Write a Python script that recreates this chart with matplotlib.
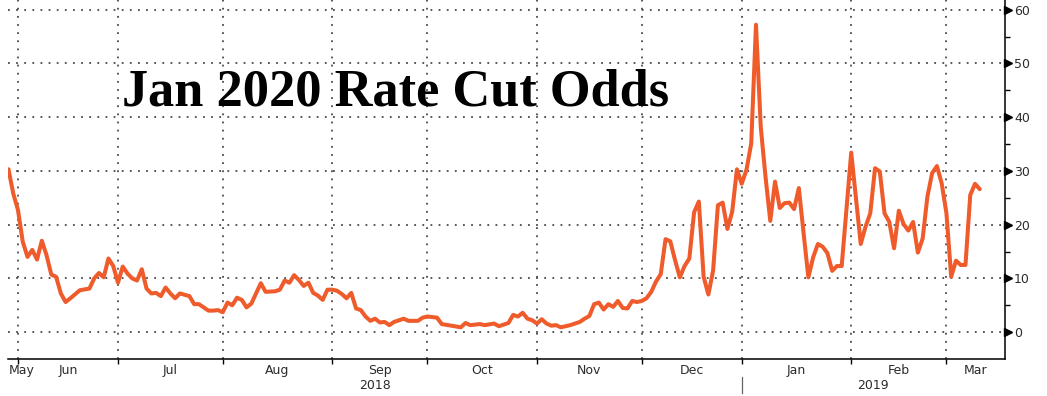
import numpy as np
import pandas as pd
import matplotlib
matplotlib.use("Agg")
import matplotlib.pyplot as plt
import matplotlib.transforms as mtrans

# ---------------- data ----------------
start_date = "2018-05-30"          # first business day shown
# business-day offsets from start_date
day_index = [0, 1, 2, 3, 4, 5, 6, 7, 8, 9, 10, 11, 12, 13, 15, 17, 18, 19, 20,
             21, 22, 23, 24, 25, 26, 27, 28, 29, 30, 31, 32, 33, 34, 35, 36, 38,
             39, 40, 41, 42, 43, 44, 45, 46, 47, 48, 49, 50, 51, 52, 53, 54, 56,
             57, 58, 59, 60, 61, 62, 63, 64, 65, 66, 67, 68, 69, 70, 71, 72, 73,
             74, 75, 76, 77, 78, 79, 80, 81, 83, 84, 86, 87, 88, 90, 91, 93, 95,
             96, 97, 99, 100, 102, 103, 105, 106, 107, 108, 109, 110, 111, 112,
             113, 114, 115, 116, 118, 119, 120, 121, 122, 123, 124, 125, 126,
             127, 128, 129, 130, 131, 132, 133, 134, 135, 136, 137, 138, 139,
             140, 141, 142, 143, 144, 145, 146, 147, 148, 149, 150, 151, 152,
             153, 154, 155, 156, 157, 158, 159, 160, 161, 162, 163, 164, 165,
             166, 167, 168, 169, 170, 171, 172, 173, 174, 175, 177, 178, 179,
             180, 181, 182, 183, 184, 185, 186, 187, 188, 189, 190, 191, 192,
             193, 194, 195, 196, 197, 198, 199, 200, 201, 202, 203, 204]
odds = [30.3, 25.8, 22.7, 16.8, 14.0, 15.3, 13.5, 17.0, 14.3, 10.7, 10.3, 7.2,
        5.6, 6.3, 7.8, 8.1, 10.0, 11.0, 10.2, 13.7, 12.3, 9.2, 12.2, 10.9, 10.0,
        9.6, 11.7, 8.1, 7.2, 7.3, 6.7, 8.3, 7.2, 6.3, 7.2, 6.7, 5.2, 5.2, 4.6,
        4.0, 4.0, 4.1, 3.7, 5.5, 5.0, 6.4, 6.0, 4.6, 5.3, 7.2, 9.1, 7.5, 7.6,
        7.9, 9.6, 9.2, 10.6, 9.7, 8.6, 9.2, 7.3, 6.8, 6.0, 7.9, 7.9, 7.7, 7.1,
        6.3, 7.3, 4.4, 4.1, 2.9, 2.1, 2.5, 1.8, 1.9, 1.3, 1.9, 2.5, 2.1, 2.1,
        2.7, 2.9, 2.7, 1.5, 1.2, 0.9, 1.7, 1.3, 1.5, 1.3, 1.6, 1.1, 1.7, 3.2,
        2.9, 3.6, 2.5, 2.2, 1.6, 2.4, 1.6, 1.2, 1.3, 0.9, 1.3, 1.6, 1.9, 2.5,
        3.0, 5.2, 5.5, 4.2, 5.2, 4.7, 5.8, 4.5, 4.4, 5.8, 5.6, 5.8, 6.3, 7.5,
        9.4, 10.8, 17.3, 16.9, 13.4, 10.2, 12.3, 13.7, 22.3, 24.3, 10.3, 7.0,
        11.5, 23.6, 24.1, 19.2, 22.4, 30.3, 27.6, 30.2, 35.1, 57.2, 38.2, 28.9,
        20.7, 28.0, 23.1, 24.0, 24.1, 22.9, 26.8, 18.4, 10.2, 13.9, 16.4, 15.9,
        14.7, 11.4, 12.3, 12.3, 33.4, 24.8, 16.4, 19.6, 22.1, 30.5, 29.9, 22.1,
        20.5, 15.6, 22.6, 20.1, 18.9, 20.5, 14.8, 17.4, 25.2, 29.6, 30.9, 27.7,
        22.1, 10.3, 13.3, 12.5, 12.5, 25.5, 27.6, 26.6]

month_labels = ["May", "Jun", "Jul", "Aug", "Sep", "Oct", "Nov", "Dec",
                "Jan", "Feb", "Mar"]
year_labels = ["2018", "2019"]
y_ticks = [0, 10, 20, 30, 40, 50, 60]
y_minor = [5, 15, 25, 35, 45, 55]
title = "Jan 2020 Rate Cut Odds"

# ---------------- layout ----------------
W, H, DPI = 1047, 396, 100
fig = plt.figure(figsize=(W / DPI, H / DPI), dpi=DPI)
ax = fig.add_axes([8 / W, 37 / H, (1005 - 8) / W, (396 - 37) / H])

bdays = pd.bdate_range(start_date, "2019-03-29")
xmin, xmax = -0.1, 209.3
month_starts = [i for i in range(1, len(bdays))
                if bdays[i].month != bdays[i - 1].month and i < xmax]
year_starts = [i for i in month_starts if bdays[i].month == 1]

line_color = "#EF5B2B"
text_color = "#2b2b2b"
grid_kw = dict(color="#4a4a4a", linewidth=1.3, linestyle=(0, (1, 3.5)))

ax.plot(day_index, odds, color=line_color, linewidth=2.9,
        solid_joinstyle="round", solid_capstyle="round", zorder=3)

ax.set_xlim(xmin, xmax)
ax.set_ylim(-5, 61.8)

# grid
ax.set_xticks(month_starts)
ax.set_yticks(y_ticks)
ax.set_yticks(y_minor, minor=True)
ax.grid(True, which="major", **grid_kw)
ax.set_axisbelow(True)

for s in ["top", "left"]:
    ax.spines[s].set_visible(False)
for s in ["bottom", "right"]:
    ax.spines[s].set_color("black")
    ax.spines[s].set_linewidth(1.1)

ax.tick_params(axis="x", which="major", direction="out", length=3.5,
               width=1.0, color="black", labelbottom=False)
ax.yaxis.tick_right()
ax.tick_params(axis="y", which="major", length=0, pad=6.5,
               labelsize=9, labelcolor=text_color, labelright=True,
               labelleft=False)
ax.tick_params(axis="y", which="minor", direction="out", length=3.5,
               width=1.0, color="black", right=True, left=False)
for lab in ax.get_yticklabels():
    lab.set_fontfamily("DejaVu Sans")

# triangle markers at major y ticks
tri_trans = mtrans.offset_copy(
    mtrans.blended_transform_factory(ax.transAxes, ax.transData),
    fig=fig, x=3.0, y=0, units="dots")
ax.plot([1.0] * len(y_ticks), y_ticks, linestyle="none", marker=">",
        markersize=5.5, color="black", transform=tri_trans, clip_on=False,
        zorder=5)

# month labels centred within each (visible) month
xt = mtrans.blended_transform_factory(ax.transData, ax.transAxes)
bounds = [xmin] + month_starts + [xmax]
for k, name in enumerate(month_labels):
    a, b = bounds[k], bounds[k + 1]
    if k == 0:
        ax.text(a + 0.1, -0.031, name, transform=xt, ha="left", va="center",
                fontsize=9, color=text_color)
    else:
        ax.text((a + b) / 2, -0.031, name, transform=xt, ha="center",
                va="center", fontsize=9, color=text_color)

# year labels and separator
ybounds = [xmin] + year_starts + [xmax]
for k, yl in enumerate(year_labels):
    ax.text((ybounds[k] + ybounds[k + 1]) / 2, -0.073, yl, transform=xt,
            ha="center", va="center", fontsize=9, color=text_color)
for ys in year_starts:
    ax.plot([ys, ys], [-0.05, -0.095], transform=xt, color="#666666",
            linewidth=0.9, clip_on=False)

# big title
fig.text(122 / W, (H - 105) / H, title, fontsize=37.7, fontweight="bold",
         family="Liberation Serif", color="black", ha="left", va="baseline")

fig.savefig("out.png", dpi=DPI)
